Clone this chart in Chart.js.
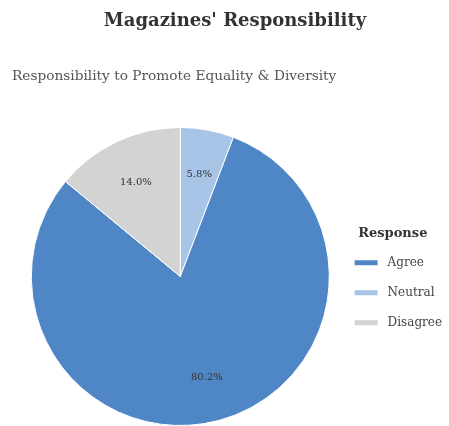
<!doctype html>
<html>

<head>
	<title>Magazines' Responsibility</title>
	<script src="https://cdn.jsdelivr.net/npm/chart.js@4/dist/chart.umd.min.js"></script>
	<style>
	body { margin: 0; background: #fff; }
	canvas { display: block; }
	</style>
</head>

<body>
	<canvas id="pie-canvas" width="449" height="426"></canvas>
	<script>
    // slices in the order they are drawn clockwise from 12 o'clock
    var categories = ['Neutral', 'Agree', 'Disagree'];
    var shares = [5.8, 80.2, 14.0];
    var sliceColors = ['#a8c4e6', '#4f86c6', '#d3d3d3'];
    // order the legend lists them in
    var legendOrder = ['Agree', 'Neutral', 'Disagree'];

    var titleText = "Magazines' Responsibility";
    var subtitleText = 'Responsibility to Promote Equality & Diversity';
    var legendTitle = 'Response';

    var serif = 'DejaVu Serif';

    // heading and sub heading above the pie
    var headings = {
      id: 'headings',
      afterDraw: function(chart) {
        var c = chart.ctx;
        c.save();
        c.textBaseline = 'middle';
        c.fillStyle = '#333';
        c.font = 'bold 18px "' + serif + '"';
        c.textAlign = 'center';
        c.fillText(titleText, 235, 21);
        c.fillStyle = '#555';
        c.font = '13.7px "' + serif + '"';
        c.textAlign = 'left';
        c.fillText(subtitleText, 12, 76);
        c.restore();
      }
    };

    // percentage written inside each slice
    var sliceLabels = {
      id: 'sliceLabels',
      afterDatasetsDraw: function(chart) {
        var c = chart.ctx;
        var meta = chart.getDatasetMeta(0);
        c.save();
        c.font = '10px "' + serif + '"';
        c.fillStyle = '#333';
        c.textAlign = 'center';
        c.textBaseline = 'middle';
        meta.data.forEach(function(arc, i) {
          var p = arc.getProps(['x', 'y', 'startAngle', 'endAngle', 'outerRadius'], true);
          var mid = (p.startAngle + p.endAngle) / 2;
          var r = p.outerRadius * 0.7;
          c.fillText(shares[i].toFixed(1) + '%', p.x + r * Math.cos(mid), p.y + r * Math.sin(mid));
        });
        c.restore();
      }
    };

    // default pie legend items, with a thick white edge so the swatch sits
    // a little away from its text
    var pieLabels = Chart.overrides.pie.plugins.legend.labels.generateLabels;
    function legendItems(chart) {
      return pieLabels(chart).map(function(item) {
        item.strokeStyle = '#fff';
        item.lineWidth = 8;
        return item;
      });
    }

    var ctx = document.getElementById('pie-canvas').getContext('2d');
    window.pie = new Chart(ctx, {
      type: 'pie',
      data: {
        labels: categories,
        datasets: [{
          data: shares,
          backgroundColor: sliceColors,
          borderColor: '#fff',
          borderWidth: 1
        }]
      },
      options: {
        responsive: false,
        animation: false,
        layout: { padding: { top: 127, bottom: 0, left: 27, right: -3 } },
        plugins: {
          tooltip: { enabled: false },
          legend: {
            position: 'right',
            title: {
              display: true,
              text: legendTitle,
              color: '#333',
              font: { family: serif, size: 13, weight: 'bold' },
              padding: { top: 20, bottom: -3 }
            },
            labels: {
              boxWidth: 31,
              boxHeight: 13,
              padding: 17,
              color: '#444',
              font: { family: serif, size: 12 },
              generateLabels: legendItems,
              sort: function(a, b) {
                return legendOrder.indexOf(a.text) - legendOrder.indexOf(b.text);
              }
            }
          }
        }
      },
      plugins: [headings, sliceLabels]
    });
	</script>
</body>

</html>
